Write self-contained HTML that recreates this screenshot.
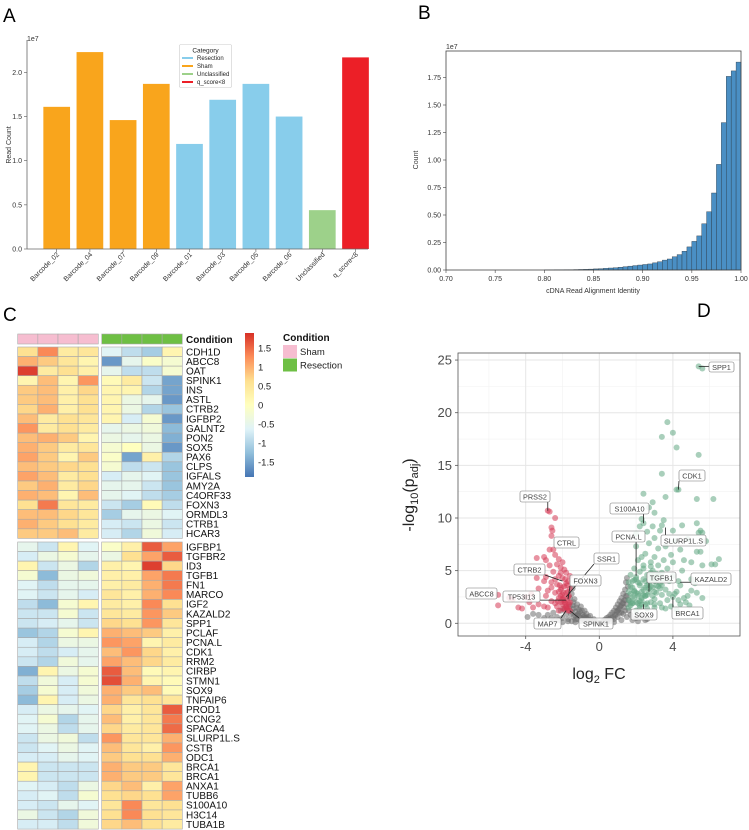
<!DOCTYPE html>
<html><head><meta charset="utf-8">
<style>
body{margin:0;background:#fff;}
svg{display:block;font-family:"Liberation Sans","DejaVu Sans",sans-serif;}
</style></head>
<body>
<svg id="fig" width="749" height="830" viewBox="0 0 749 830" xmlns="http://www.w3.org/2000/svg">
<rect width="749" height="830" fill="#fff"/>
<text x="3" y="22" font-size="19">A</text>
<text x="418" y="19" font-size="19">B</text>
<text x="3" y="321" font-size="19">C</text>
<text x="697" y="317" font-size="19">D</text>
<g id="pa"></g>
<g id="pb"></g>
<g id="pc"></g>
<g id="pd"></g>
</svg>
<script>
// ---------- Panel A data ----------
const aCategories = ["Barcode_02","Barcode_04","Barcode_07","Barcode_09","Barcode_01","Barcode_03","Barcode_05","Barcode_06","Unclassified","q_score<8"];
const aValues = [1.61,2.23,1.46,1.87,1.19,1.69,1.87,1.50,0.44,2.17];
const aGroups = ["Sham","Sham","Sham","Sham","Resection","Resection","Resection","Resection","Unclassified","q_score<8"];
const aTicks = [0,0.5,1.0,1.5,2.0];
const aTickLabels = ["0.0","0.5","1.0","1.5","2.0"];
// ---------- Panel B data ----------
const bBinStarts = [0.800,0.805,0.810,0.815,0.820,0.825,0.830,0.835,0.840,0.845,0.850,0.855,0.860,0.865,0.870,0.875,0.880,0.885,0.890,0.895,0.900,0.905,0.910,0.915,0.920,0.925,0.930,0.935,0.940,0.945,0.950,0.955,0.960,0.965,0.970,0.975,0.980,0.985,0.990,0.995];
const bCounts = [0.001,0.001,0.002,0.002,0.003,0.003,0.004,0.005,0.006,0.008,0.010,0.012,0.015,0.018,0.020,0.025,0.030,0.035,0.040,0.045,0.050,0.055,0.065,0.075,0.090,0.100,0.120,0.140,0.170,0.210,0.260,0.310,0.420,0.530,0.700,0.960,1.340,1.760,1.810,1.890];
const bXTicks = [0.70,0.75,0.80,0.85,0.90,0.95,1.00];
const bYTicks = [0,0.25,0.5,0.75,1.0,1.25,1.5,1.75];
// ---------- Panel C data ----------
const cGenes = ["CDH1D","ABCC8","OAT","SPINK1","INS","ASTL","CTRB2","IGFBP2","GALNT2","PON2","SOX5","PAX6","CLPS","IGFALS","AMY2A","C4ORF33","FOXN3","ORMDL3","CTRB1","HCAR3",
"IGFBP1","TGFBR2","ID3","TGFB1","FN1","MARCO","IGF2","KAZALD2","SPP1","PCLAF","PCNA.L","CDK1","RRM2","CIRBP","STMN1","SOX9","TNFAIP6","PROD1","CCNG2","SPACA4","SLURP1L.S","CSTB","ODC1","BRCA1","BRCA1","ANXA1","TUBB6","S100A10","H3C14","TUBA1B"];
const cSham = [
[0.6,1.3,0.4,0.5],[1.0,0.8,0.5,0.2],[1.8,0.4,0.6,0.3],[0.2,0.9,0.2,1.2],[0.8,0.9,0.3,0.7],[0.8,0.9,0.3,0.6],[0.7,1.0,0.3,0.6],[0.9,0.4,0.6,0.5],[1.2,0.4,0.6,0.4],[0.9,1.0,0.8,0.2],
[1.0,0.8,0.4,0.5],[1.1,0.8,0.2,0.8],[0.9,0.8,0.7,0.6],[1.1,0.9,0.4,0.6],[0.8,1.0,0.4,0.7],[1.0,0.9,0.2,0.9],[0.6,1.4,0.5,0.4],[0.9,0.9,0.7,0.5],[1.0,0.8,0.6,0.4],[0.8,0.8,0.9,0.4],
[-0.5,-0.8,0.2,-0.6],[-0.7,-0.4,-0.2,-0.5],[0.2,-0.8,-0.4,-1.0],[-0.2,-1.3,-0.4,-0.3],[-0.6,-0.9,-0.5,-0.5],[-0.6,-0.8,-0.5,-0.7],[-0.9,-1.3,-0.2,0.2],[-0.8,-0.8,-0.2,-0.8],[-0.8,-0.7,-0.5,-0.8],[-1.2,-1.0,-0.2,0.2],
[-0.7,-1.0,-0.4,-0.4],[-0.7,-0.9,-0.7,-0.5],[-0.8,-1.0,-0.3,-0.5],[-1.4,0.2,-0.4,-0.2],[-0.9,-0.3,-0.7,-0.2],[-1.1,-0.2,-0.7,-0.3],[-1.3,0.2,-0.7,-0.4],[-0.7,-0.4,-0.5,-0.6],[-0.6,-0.2,-1.0,-0.5],[-0.6,-0.4,-0.9,-0.5],
[-0.8,-0.4,-0.3,-0.9],[-0.8,-0.6,-0.4,-0.6],[-0.7,-0.7,-0.5,-0.6],[0.2,-0.8,-0.8,-0.8],[0.2,-0.8,-0.8,-0.8],[-0.6,-0.7,-0.9,-0.4],[-0.7,-0.6,-0.9,-0.2],[-0.7,-0.8,-0.5,-0.6],[-0.4,-0.8,-1.0,-0.3],[-0.7,-0.7,-0.9,-0.3]];
const cResection = [
[-0.6,-0.9,-1.1,0.2],[-1.6,-0.5,-0.1,-0.2],[-0.5,-0.9,-0.9,-0.2],[0.1,0.4,-0.8,-1.5],[0.2,0.2,-1.0,-1.5],[0.2,-0.4,-0.5,-1.6],[0.2,-0.4,-1.0,-1.2],[0.2,-0.7,-0.2,-1.6],[-0.5,-0.4,-0.3,-1.3],[-0.4,-0.5,-0.4,-1.4],
[-0.2,0.0,-0.4,-1.6],[-0.1,-1.5,0.3,-1.0],[-0.2,-0.9,-0.8,-1.2],[-0.7,-0.5,-0.6,-1.2],[-0.5,-0.5,-0.8,-1.2],[-0.5,-0.6,-0.9,-1.1],[-0.8,-1.1,0.1,-0.9],[-1.1,-0.5,-0.4,-0.6],[-0.7,-0.8,-0.4,-0.8],[-0.7,-1.0,-0.3,-0.7],
[-0.1,0.3,1.6,1.1],[-0.4,0.6,1.1,1.6],[0.3,0.2,1.8,0.7],[0.3,0.3,1.1,1.4],[0.3,0.4,1.0,1.4],[0.5,0.3,1.0,1.3],[0.4,0.3,1.3,0.6],[0.5,0.4,1.2,0.8],[0.7,0.6,1.2,0.5],[1.0,0.9,0.8,0.3],
[1.2,1.1,0.2,0.4],[0.9,1.2,0.7,0.3],[1.1,0.9,0.7,0.4],[1.6,0.9,0.1,0.2],[1.7,1.0,0.2,0.1],[1.0,0.8,0.9,0.1],[1.0,0.5,0.6,0.5],[0.7,0.3,0.5,1.6],[0.9,0.3,0.5,1.4],[0.7,0.4,0.5,1.5],
[1.2,0.5,0.5,1.0],[0.9,0.5,0.3,1.2],[0.8,0.6,0.6,1.0],[1.0,0.8,0.8,0.5],[1.0,0.8,0.8,0.5],[0.7,0.9,0.3,1.1],[0.6,0.7,0.6,1.1],[0.5,1.3,0.5,0.6],[0.6,1.3,0.6,0.5],[0.7,0.9,0.6,0.4]];
const cBarTicks = [1.5,1,0.5,0,-0.5,-1,-1.5];
// ---------- Panel D data ----------
const dGrayX = [-2.8,-2.5,-2.3,-2.1,-2.0,-1.9,-1.8,-1.7,-1.6,-1.5,-1.4,-1.3,-1.2,-1.1,-1.0,-0.9,-0.8,-0.7,-0.6,-0.5,-0.4,-0.3,-0.2,-0.1,0,0.1,0.2,0.3,0.4,0.5,0.6,0.7,0.8,0.9,1.0,1.1,1.2,1.3,1.4,1.45,1.5,1.35,1.2,1.0,0.8,0.6,-0.8,-1.2,-1.5,-2.0,-2.5,-3.0,-3.3,-1.3,-1.0,-0.6,0.4,0.8,1.2,1.5,1.7,2.0,2.3,2.6,-1.6,-1.5,-1.45,1.5,1.5,1.6,-1.1,-0.9,-1.3,-1.4,-0.7,1.1,1.3,0.9,1.4,1.0,
-1.55,-1.45,-1.35,-1.25,-1.15,-1.05,-0.95,-0.85,-0.75,-0.65,-0.55,-0.45,-0.35,-0.25,0.25,0.35,0.45,0.55,0.65,0.75,0.85,0.95,1.05,1.15,1.25,1.35,1.45,1.55,1.6,1.4,1.3,1.2,1.1,-1.3,-1.2,-1.0,-0.8,-2.2,-2.6,-3.6,-3.9,1.8,2.1,2.5,-1.7,-1.4];
const dGrayY = [0.8,1.0,0.6,1.2,0.5,1.4,0.9,0.4,1.6,1.1,2.0,0.7,1.8,1.3,1.6,0.8,1.2,0.9,0.6,0.7,0.3,0.4,0.2,0.1,0.05,0.1,0.2,0.35,0.5,0.6,0.8,1.0,1.2,1.5,1.8,2.1,2.4,2.8,3.2,3.9,4.3,1.5,1.0,0.6,0.4,0.2,0.3,0.4,0.2,0.1,0.2,0.5,0.8,0.1,0.2,0.1,0.1,0.1,0.3,0.6,0.8,0.5,0.6,0.4,2.4,2.8,3.3,1.8,2.6,1.2,0.7,0.4,1.1,1.4,0.5,1.0,1.9,0.8,2.2,1.2,
0.9,1.7,2.3,1.5,0.9,1.1,1.2,0.6,0.5,0.4,0.3,0.2,0.15,0.1,0.15,0.25,0.3,0.4,0.5,0.6,0.8,1.1,1.3,1.6,1.9,2.2,2.6,3.5,2.2,1.2,0.9,1.7,1.4,0.35,0.8,0.5,0.7,0.3,0.5,0.9,0.6,0.3,0.2,0.3,0.2,0.6];
const dRedX = [-2.8,-2.7,-2.4,-2.6,-2.55,-2.6,-2.7,-2.5,-2.4,-2.9,-3.0,-3.4,-2.2,-2.0,-2.3,-2.7,-2.1,-1.9,-2.5,-1.8,-2.2,-2.0,-3.4,-3.0,-2.6,-1.7,-2.3,-1.9,-2.1,-3.3,-2.8,-1.6,-2.4,-2.0,-1.7,-3.7,-2.2,-1.9,-2.6,-1.6,-2.0,-2.3,-1.7,-3.3,-3.0,-1.9,-2.2,-4.0,-4.4,-4.2,-5.5,-5.5,-4.7,-4.9,-3.8,-3.6,-2.8,-1.6,-1.8,-2.1,-2.4,-1.8,-2.6,-1.7,-2.0,-2.4,-1.65,-1.6,-2.9,-2.9,-1.8,-1.9,-2.1,-1.7,-2.2,
-1.75,-1.85,-1.95,-2.05,-1.65,-1.75,-1.85,-1.95,-2.15,-2.25,-1.7,-1.8,-2.0,-2.1];
const dRedY = [10.7,10.6,10.0,9.1,8.8,8.3,7.0,7.0,6.5,6.0,6.3,6.2,6.1,5.8,5.6,5.5,5.3,5.1,4.9,4.8,4.5,4.3,4.3,4.0,3.9,4.0,3.7,3.5,3.2,3.3,3.1,3.3,2.9,2.7,2.5,2.8,2.4,2.2,2.1,2.0,1.8,1.6,1.5,1.8,1.6,1.3,1.2,2.5,1.5,1.4,1.7,2.7,2.3,2.4,2.0,1.5,1.5,1.2,2.9,4.8,4.2,3.8,3.4,3.0,2.3,1.9,1.8,4.5,4.4,2.6,1.6,2.0,2.6,2.0,3.0,
1.4,1.9,2.4,3.4,2.6,3.6,4.2,2.9,3.6,2.1,1.2,1.5,1.4,2.0];
const dGreenX = [5.4,5.6,3.7,4.0,3.4,4.2,5.4,3.4,4.2,4.3,2.4,3.6,5.3,6.2,2.9,2.7,3.0,2.3,3.5,2.4,5.3,4.5,3.4,2.2,2.9,5.5,4.0,3.3,2.6,5.4,5.6,2.0,3.0,4.8,5.8,4.1,2.7,3.6,2.0,4.4,3.2,5.5,5.3,2.5,3.9,2.3,3.0,4.6,6.5,3.5,2.1,4.0,5.0,2.8,6.1,6.3,3.2,5.6,2.4,1.9,3.7,4.5,2.9,2.2,3.4,1.7,2.6,4.0,5.0,3.0,2.0,3.8,2.5,1.6,3.3,4.4,5.2,2.2,2.8,1.8,3.6,2.4,4.2,3.0,1.6,2.0,3.4,4.0,2.6,1.8,2.3,3.0,3.7,1.6,2.8,2.0,3.3,2.5,4.4,1.7,3.9,2.2,3.0,4.7,4.9,4.2,3.6,4.6,4.8,4.1,4.3,4.3,3.2,3.5,2.7,2.1,1.9,2.4,2.9,3.8,2.1,2.6,3.4,1.6,2.0,5.0,5.3,5.6,1.8,2.3,2.7,3.1,1.7,2.2,2.5,1.9,
1.7,1.9,2.1,2.3,2.5,2.7,2.9,3.1,3.3,1.8,2.0,2.2,2.4,2.6,2.8,3.0,3.2,3.4,1.7,1.9,2.1,2.3,2.5,2.7,2.9,3.1,1.8,2.2,2.6,3.0,2.4,2.8];
const dGreenY = [24.4,24.2,19.1,18.1,17.7,16.7,16.0,14.2,12.7,12.7,12.3,12.0,11.8,11.8,11.5,11.0,10.5,9.9,9.8,9.5,9.5,9.3,9.3,9.2,9.2,8.8,8.8,8.8,8.7,8.6,8.6,8.5,8.1,8.0,7.8,7.8,7.6,7.3,7.3,7.0,7.1,6.8,6.8,6.6,6.5,6.3,6.3,6.0,6.1,6.0,6.0,5.8,5.8,5.8,5.6,5.6,5.5,5.5,5.5,5.2,5.2,5.0,5.0,4.9,4.8,4.6,4.6,4.5,4.2,4.3,4.2,4.0,4.0,3.9,3.8,3.6,3.8,3.6,3.5,3.4,3.2,3.2,3.0,3.0,3.0,2.9,2.7,2.5,2.7,2.5,2.4,2.3,2.2,2.2,2.0,2.0,1.9,1.8,1.8,1.7,1.6,1.5,1.5,2.0,1.7,1.3,1.4,2.4,2.6,2.8,2.2,4.0,3.5,4.2,4.2,3.9,3.1,2.7,2.6,2.8,1.9,1.4,1.5,1.5,1.2,3.1,2.9,2.4,1.9,1.8,3.3,3.6,2.8,2.1,2.6,4.1,
2.0,2.4,2.8,2.2,2.6,3.0,3.4,2.9,3.3,4.0,4.4,3.8,4.2,3.6,4.8,4.0,4.6,3.6,3.5,3.0,2.6,3.0,3.4,3.8,4.3,4.7,1.9,1.7,1.9,1.8,5.2,5.4];
const dXTicks = [-4,0,4];
const dYTicks = [0,5,10,15,20,25];
const dLabels = ["SPP1","CDK1","PRSS2","S100A10","PCNA.L","SLURP1L.S","CTRL","SSR1","CTRB2","FOXN3","TGFB1","KAZALD2","ABCC8","TP53I13","BRCA1","SOX9","MAP7","SPINK1"];
const dLabelTargetX = [5.4,4.3,-2.8,2.4,2.0,3.6,-2.6,-1.8,-2.0,-1.7,2.7,4.4,-5.5,-1.8,4.0,2.4,-1.8,-1.6];
const dLabelTargetY = [24.4,12.7,10.7,9.5,4.5,9.1,7.0,2.5,4.0,2.3,3.0,3.9,2.7,2.2,2.5,1.8,1.2,1.2];
</script>
<script>
const NS="http://www.w3.org/2000/svg";
function mk(parent,tag,attrs,text){const e=document.createElementNS(NS,tag);for(const k in attrs)e.setAttribute(k,attrs[k]);if(text!==undefined)e.textContent=text;parent.appendChild(e);return e;}

// ===== Panel A =====
(function(){
const g=document.getElementById('pa');
const x0=27,x1=368,yb=249,pxPer=88.3;
const ys=v=>yb-v*pxPer;
const bw=26.7, first=56.7;
const xc=i=>first+i*33.2;
const col={"Sham":"#f9a51c","Resection":"#88cdeb","Unclassified":"#9dd18a","q_score<8":"#ec1f27"};
aValues.forEach((v,i)=>{
 const r=mk(g,'rect',{x:xc(i)-bw/2,y:ys(v),width:bw,height:v*pxPer,fill:col[aGroups[i]]});
 
 
 const t=mk(g,'text',{x:xc(i)+3,y:255,'font-size':7,fill:'#333','text-anchor':'end',transform:`rotate(-45 ${xc(i)+3} 255)`},aCategories[i]);
 
 
 mk(g,'line',{x1:xc(i),x2:xc(i),y1:yb,y2:yb+3,stroke:'#555','stroke-width':0.6});
});
aTicks.forEach((v,i)=>{
 mk(g,'line',{x1:x0-3,x2:x0,y1:ys(v),y2:ys(v),stroke:'#555','stroke-width':0.6});
 const t=mk(g,'text',{x:x0-5,y:ys(v)+2.5,'font-size':7,fill:'#333','text-anchor':'end'},aTickLabels[i]);
 
 
});
mk(g,'line',{x1:x0,x2:x0,y1:40,y2:yb,stroke:'#666','stroke-width':0.8});
mk(g,'line',{x1:x0,x2:x1,y1:yb,y2:yb,stroke:'#666','stroke-width':0.8});
mk(g,'text',{x:27,y:41,'font-size':7,fill:'#333'},'1e7');
const yl=mk(g,'text',{x:11,y:145,'font-size':7,fill:'#333','text-anchor':'middle',transform:'rotate(-90 11 145)'},'Read Count');


const lg=mk(g,'g',{});


mk(lg,'rect',{x:179.5,y:44.5,width:52,height:43,fill:'#fff',stroke:'#ccc','stroke-width':0.6,rx:1.5});
mk(lg,'text',{x:205.5,y:52.5,'font-size':6.5,'text-anchor':'middle',fill:'#222'},'Category');
[["Resection","#88cdeb"],["Sham","#f9a51c"],["Unclassified","#9dd18a"],["q_score<8","#ec1f27"]].forEach((e,i)=>{
 const y=58+i*8;
 mk(lg,'line',{x1:182,x2:193,y1:y,y2:y,stroke:e[1],'stroke-width':2});
 const t=mk(lg,'text',{x:197,y:y+2.2,'font-size':6,fill:'#222'},e[0]);
 
 
});
})();

// ===== Panel B =====
(function(){
const g=document.getElementById('pb');
const x0=446,x1=741,yb=270,yt=51;
const xs=v=>x0+(v-0.70)/0.30*(x1-x0);
const ys=v=>yb-v*110;
bCounts.forEach((c,i)=>{
 const xa=xs(bBinStarts[i]),xb=xs(bBinStarts[i]+0.005);
 const r=mk(g,'rect',{x:xa,y:ys(c),width:xb-xa,height:c*110,fill:'#4a8fc4',stroke:'#2b3a48','stroke-width':0.4});
 
 
});
mk(g,'rect',{x:x0,y:yt,width:x1-x0,height:yb-yt,fill:'none',stroke:'#444','stroke-width':0.8});
bXTicks.forEach(v=>{
 mk(g,'line',{x1:xs(v),x2:xs(v),y1:yb,y2:yb+3,stroke:'#444','stroke-width':0.6});
 const t=mk(g,'text',{x:xs(v),y:yb+11,'font-size':7,fill:'#333','text-anchor':'middle'},v.toFixed(2));
 
 
});
bYTicks.forEach(v=>{
 mk(g,'line',{x1:x0-3,x2:x0,y1:ys(v),y2:ys(v),stroke:'#444','stroke-width':0.6});
 const t=mk(g,'text',{x:x0-5,y:ys(v)+2.5,'font-size':7,fill:'#333','text-anchor':'end'},v.toFixed(2));
 
 
});
mk(g,'text',{x:446,y:49,'font-size':7,fill:'#333'},'1e7');
const xl=mk(g,'text',{x:593,y:293,'font-size':7,fill:'#333','text-anchor':'middle'},'cDNA Read Alignment Identity');


const yl=mk(g,'text',{x:418,y:160,'font-size':7,fill:'#333','text-anchor':'middle',transform:'rotate(-90 418 160)'},'Count');


})();

// ===== Panel C =====
(function(){
const g=document.getElementById('pc');
const stops=[[-1.9,[69,117,180]],[-1.27,[145,191,219]],[-0.63,[224,243,248]],[0,[255,255,191]],[0.63,[254,224,144]],[1.27,[252,141,89]],[1.9,[215,48,39]]];
function cmap(v){v=Math.max(-1.9,Math.min(1.9,v));for(let i=0;i<stops.length-1;i++){const a=stops[i],b=stops[i+1];if(v<=b[0]){const t=(v-a[0])/(b[0]-a[0]);return 'rgb('+a[1].map((c,k)=>Math.round(c+(b[1][k]-c)*t)).join(',')+')';}}return 'rgb(215,48,39)';}
const cw=20.15, rh=9.57;
const sx=17.7, rx=101.7;
const rowY=i=> i<20 ? 347+i*rh : 542+(i-20)*rh;
for(let j=0;j<4;j++){
 const a=mk(g,'rect',{x:sx+j*cw,y:334,width:cw,height:10,fill:'#f6bdd0',stroke:'#aaa','stroke-width':0.6});
 
 
 const b=mk(g,'rect',{x:rx+j*cw,y:334,width:cw,height:10,fill:'#6ebf44',stroke:'#aaa','stroke-width':0.6});
 
 
}
mk(g,'text',{x:186,y:343,'font-size':10,'font-weight':'bold',fill:'#111'},'Condition');
cGenes.forEach((gene,i)=>{
 const y=rowY(i);
 for(let j=0;j<4;j++){
  const c=mk(g,'rect',{x:sx+j*cw,y:y,width:cw,height:rh,fill:cmap(cSham[i][j]),stroke:'#a8a8a8','stroke-width':0.6});
  
  
  const d=mk(g,'rect',{x:rx+j*cw,y:y,width:cw,height:rh,fill:cmap(cResection[i][j]),stroke:'#a8a8a8','stroke-width':0.6});
  
  
 }
 const t=mk(g,'text',{x:186,y:y+8.3,'font-size':10,fill:'#111'},gene);
 
 
});
const defs=mk(g,'defs',{});
const lgr=mk(defs,'linearGradient',{id:'cbg',x1:0,y1:0,x2:0,y2:1});
[...stops].reverse().forEach((s,i)=>mk(lgr,'stop',{offset:(i/6),'stop-color':'rgb('+s[1].join(',')+')'}));
const cb=mk(g,'rect',{x:245,y:333,width:9,height:144,fill:'url(#cbg)'});


cBarTicks.forEach(v=>{
 const y=405-v*38;
 const t=mk(g,'text',{x:258,y:y+3.5,'font-size':9.5,fill:'#222'},String(v));
 
 
});
const lg=mk(g,'g',{});


mk(lg,'text',{x:283,y:341,'font-size':10,'font-weight':'bold',fill:'#111'},'Condition');
mk(lg,'rect',{x:283,y:345,width:14,height:13,fill:'#f6bdd0'});
mk(lg,'rect',{x:283,y:358.5,width:14,height:13,fill:'#6ebf44'});
mk(lg,'text',{x:300,y:355,'font-size':9.5,fill:'#222'},'Sham');
mk(lg,'text',{x:300,y:368.5,'font-size':9.5,fill:'#222'},'Resection');
})();

// ===== Panel D =====
(function(){
const g=document.getElementById('pd');
const L=458,R=740,T=353,B=636;
const xs=v=>599.3+v*18.4;
const ys=v=>623.3-v*10.53;
mk(g,'rect',{x:L,y:T,width:R-L,height:B-T,fill:'#fff'});
[-6,-2,2,6].forEach(v=>mk(g,'line',{x1:xs(v),x2:xs(v),y1:T,y2:B,stroke:'#f2f2f2','stroke-width':0.6}));
[2.5,7.5,12.5,17.5,22.5].forEach(v=>mk(g,'line',{x1:L,x2:R,y1:ys(v),y2:ys(v),stroke:'#f2f2f2','stroke-width':0.6}));
dXTicks.forEach(v=>mk(g,'line',{x1:xs(v),x2:xs(v),y1:T,y2:B,stroke:'#e6e6e6','stroke-width':1}));
dYTicks.forEach(v=>mk(g,'line',{x1:L,x2:R,y1:ys(v),y2:ys(v),stroke:'#e6e6e6','stroke-width':1}));
function pts(X,Y,fill,name){X.forEach((x,i)=>{const c=mk(g,'circle',{cx:xs(x),cy:ys(Y[i]),r:3,fill:fill,'fill-opacity':0.55});
 
 });}
pts(dGrayX,dGrayY,'#6e6e6e','point-ns');
pts(dRedX,dRedY,'#d63a56','point-down');
pts(dGreenX,dGreenY,'#62a883','point-up');
const boxes=[[709,362,25,10],[679,470,26,11],[520,491,30,11],[610,503,39,11],[612,531,33,11],[661,535,45,11],[554,537,25,11],[594,553,25,11],[514,564,31,11],[570,575,31,11],[647,572,29,11],[691,573,40,12],[466,588,31,11],[503,591,37,11],[672,607,31,12],[631,609,26,11],[534,618,27,11],[579,618,34,11]];
dLabels.forEach((lab,i)=>{
 const b=boxes[i];
 const px=xs(dLabelTargetX[i]),py=ys(dLabelTargetY[i]);
 const cx=Math.max(b[0],Math.min(b[0]+b[2],px)),cy=Math.max(b[1],Math.min(b[1]+b[3],py));
 if(Math.hypot(cx-px,cy-py)>4) mk(g,'line',{x1:cx,y1:cy,x2:px,y2:py,stroke:'#222','stroke-width':0.8});
 const r=mk(g,'rect',{x:b[0],y:b[1],width:b[2],height:b[3],rx:2,fill:'#fff','fill-opacity':0.85,stroke:'#777','stroke-width':0.6});
 
 
 const t=mk(g,'text',{x:b[0]+b[2]/2,y:b[1]+b[3]/2+2.8,'font-size':7.3,fill:'#444','text-anchor':'middle'},lab);
 
 
});
mk(g,'rect',{x:L,y:T,width:R-L,height:B-T,fill:'none',stroke:'#555','stroke-width':0.8});
dXTicks.forEach(v=>{
 mk(g,'line',{x1:xs(v),x2:xs(v),y1:B,y2:B+3,stroke:'#555','stroke-width':0.8});
 const t=mk(g,'text',{x:xs(v),y:B+15,'font-size':13,fill:'#4d4d4d','text-anchor':'middle'},v<0?'-'+Math.abs(v):String(v));
 
 
});
dYTicks.forEach(v=>{
 mk(g,'line',{x1:L-3,x2:L,y1:ys(v),y2:ys(v),stroke:'#555','stroke-width':0.8});
 const t=mk(g,'text',{x:L-6,y:ys(v)+4.5,'font-size':13,fill:'#4d4d4d','text-anchor':'end'},String(v));
 
 
});
const xl=mk(g,'text',{x:599,y:679,'font-size':16,fill:'#222','text-anchor':'middle'});


mk(xl,'tspan',{},'log');mk(xl,'tspan',{'font-size':11,dy:4},'2');mk(xl,'tspan',{dy:-4},' FC');
const yl=mk(g,'text',{x:414,y:495,'font-size':16,fill:'#222','text-anchor':'middle',transform:'rotate(-90 414 495)'});


mk(yl,'tspan',{},'-log');mk(yl,'tspan',{'font-size':11,dy:4},'10');mk(yl,'tspan',{dy:-4},'(p');mk(yl,'tspan',{'font-size':11,dy:4},'adj');mk(yl,'tspan',{dy:-4},')');
})();
</script>
</body></html>
